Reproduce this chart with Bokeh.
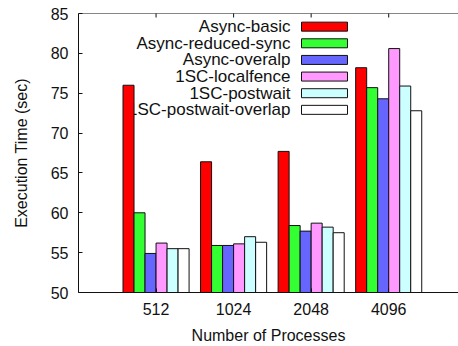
import math
from bokeh.plotting import figure
from bokeh.models import Range1d, FixedTicker, Span
from bokeh.embed import file_html
from bokeh.resources import INLINE
from bokeh.core.properties import value

# ---- data ----
categories = ["512", "1024", "2048", "4096"]
series_names = ["Async-basic", "Async-reduced-sync", "Async-overalp",
                "1SC-localfence", "1SC-postwait", "1SC-postwait-overlap"]
async_basic = [76.0, 66.4, 67.7, 78.2]
async_reduced_sync = [60.0, 55.9, 58.4, 75.7]
async_overalp = [54.9, 55.9, 57.7, 74.3]
sc_localfence = [56.2, 56.1, 58.7, 80.6]
sc_postwait = [55.5, 57.0, 58.2, 75.9]
sc_postwait_overlap = [55.5, 56.3, 57.5, 72.8]
series_values = [async_basic, async_reduced_sync, async_overalp,
                 sc_localfence, sc_postwait, sc_postwait_overlap]
colors = ["#ff0000", "#33ff33", "#6666ff", "#ff99ff", "#ccffff", "#ffffff"]
y_ticks = [50, 55, 60, 65, 70, 75, 80, 85]

FONT = "Liberation Sans"
FS = "16px"
LEG_FS = "17px"
INK = "#111111"

X0, X1 = 0.0, 4.9
Y0, Y1 = 50, 85
FL, FT = 78, 13          # frame left / top in page pixels
FRAME_W, FRAME_H = 380, 280

p = figure(width=458, height=346, output_backend="svg", toolbar_location=None,
           x_range=Range1d(X0, X1), y_range=Range1d(Y0, Y1),
           min_border_left=FL, min_border_right=0, min_border_top=FT,
           min_border_bottom=346 - FT - FRAME_H)
p.outline_line_color = None
p.xgrid.visible = False
p.ygrid.visible = False
p.background_fill_color = "white"
p.border_fill_color = "white"

def px_to_x(px):
    return X0 + (px - FL) * (X1 - X0) / FRAME_W

def py_to_y(py):
    return Y1 - (py - FT) * (Y1 - Y0) / FRAME_H

cat_pos = list(range(1, len(categories) + 1))

# top border with inward ticks
p.add_layout(Span(location=Y1, dimension="width", line_color=INK, line_width=1))
p.scatter(x=cat_pos, y=[Y1] * len(cat_pos), marker="dash", size=8,
          angle=math.pi / 2, line_color=INK, line_width=1)

# legend (drawn manually: text left, swatch right)
for i, (name, col) in enumerate(zip(series_names, colors)):
    ry = py_to_y(26.2 + i * 16.7)
    p.text(x=[px_to_x(290)], y=[ry], text=[name], text_align="right",
           text_baseline="middle", text_font=value(FONT), text_font_size=LEG_FS,
           text_color=INK)
    p.rect(x=[px_to_x(324)], y=[ry], width=46, height=9, width_units="screen",
           height_units="screen", fill_color=col, line_color=INK, line_width=1)

# bars
bw = 0.142
for i, (vals, col) in enumerate(zip(series_values, colors)):
    xs = [c + (i - 2.5) * bw for c in cat_pos]
    p.vbar(x=xs, top=vals, bottom=Y0, width=bw, fill_color=col,
           line_color=INK, line_width=1)

# axes styling
xa = p.xaxis[0]
xa.ticker = FixedTicker(ticks=cat_pos)
xa.major_label_overrides = {c: lab for c, lab in zip(cat_pos, categories)}
xa.axis_label = "Number of Processes"
ya = p.yaxis[0]
ya.ticker = FixedTicker(ticks=y_ticks)
ya.axis_label = "Execution Time (sec)"

for ax in (xa, ya):
    ax.major_tick_in = 4
    ax.major_tick_out = 0
    ax.minor_tick_line_color = None
    ax.axis_line_color = INK
    ax.major_tick_line_color = INK
    ax.major_label_text_font = FONT
    ax.major_label_text_font_size = FS
    ax.major_label_text_color = INK
    ax.axis_label_text_font = FONT
    ax.axis_label_text_font_size = FS
    ax.axis_label_text_font_style = "normal"
    ax.axis_label_text_color = INK
    ax.major_label_standoff = 10

xa.axis_label_standoff = 9
ya.axis_label_standoff = 18

open("out.html", "w").write(file_html(p, INLINE))
